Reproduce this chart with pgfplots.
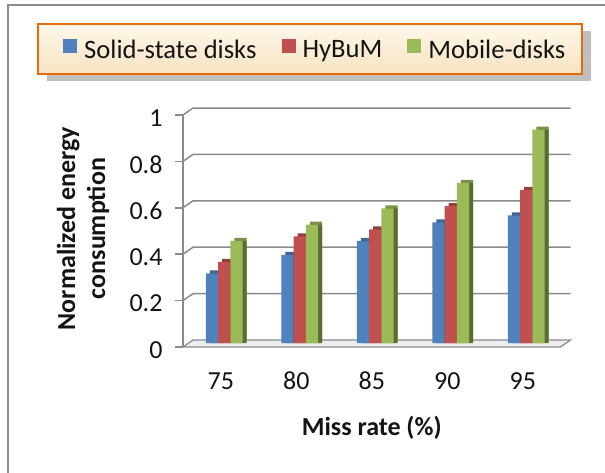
\documentclass[border=0pt]{standalone}
\usepackage{pgfplots}
\pgfplotsset{compat=1.18}
\usepackage{pgfplotstable}
\usepackage{fontspec}
\setmainfont{Carlito}

\definecolor{ssd}{HTML}{4F81BD}
\definecolor{hyb}{HTML}{C0504D}
\definecolor{mob}{HTML}{9BBB59}
\definecolor{gridgray}{HTML}{8A8A8A}
\definecolor{framegray}{HTML}{8C8C8C}
\definecolor{floorgray}{HTML}{EDEDED}
\definecolor{legorange}{HTML}{E46C0A}
\definecolor{legtop}{HTML}{FEF7EA}
\definecolor{legbottom}{HTML}{F7E3C2}
\definecolor{legshadow}{HTML}{BFBFBF}
\definecolor{txt}{HTML}{141414}

\newcommand\fsize{\fontsize{26pt}{30pt}\selectfont}
\newcommand\lsize{\fontsize{26.6pt}{30pt}\selectfont}

% normalized energy consumption per miss rate
\pgfplotstableread{
x ssd hybum mobile
0 0.30 0.35 0.44
1 0.38 0.46 0.51
2 0.44 0.49 0.58
3 0.52 0.59 0.69
4 0.55 0.66 0.92
}\energy

% pseudo-3D columns: top face, side face, front face
\pgfplotsset{
  topface/.style 2 args={ybar, bar width=12.3pt, bar shift=#2, fill=#1!78!black,
    draw=none, xshift=7.5pt, yshift=7pt, forget plot},
  sideface/.style 2 args={ybar, bar width=12.3pt, bar shift=#2, fill=#1!58!black,
    draw=none, xshift=7.5pt, yshift=4pt, forget plot},
  frontface/.style 2 args={ybar, bar width=12.3pt, bar shift=#2, fill=#1,
    draw=none, xshift=3.5pt, yshift=4pt,
    legend image code/.code={\fill[#1] (0pt,-7pt) rectangle (14pt,7pt);}},
}

\begin{document}
\begin{tikzpicture}[x=1pt,y=1pt]
\useasboundingbox (0,0) rectangle (605,472);
% outer chart frame
\draw[framegray, line width=2.5pt] (8,-3) -- (8,467) -- (608,467);
% legend panel with its drop shadow
\fill[legshadow] (47,391) rectangle (591,441);
\draw[legorange, line width=2.5pt, top color=legtop, bottom color=legbottom]
  (38,398) rectangle (582,448);
\begin{axis}[
  at={(183pt,125pt)}, anchor=south west,
  scale only axis, width=377.5pt, height=232pt,
  xmin=-0.5, xmax=4.5, ymin=0, ymax=1,
  clip=false,
  axis line style={draw=none},
  xtick={0,1,2,3,4}, xticklabels={75,80,85,90,95},
  ytick={0,0.2,0.4,0.6,0.8,1},
  yticklabels={0,0.2,0.4,0.6,0.8,1},
  tick pos=left,
  tick align=outside, major tick length=8pt,
  xtick style={draw=none},
  ytick style={gridgray, line width=1.5pt},
  /pgf/number format/assume math mode=true,
  ticklabel style={font=\fsize, text=txt},
  x tick label style={anchor=center, yshift=-26pt},
  y tick label style={anchor=east, xshift=-9pt, yshift=-3pt},
  xlabel={Miss rate (\%)},
  ylabel={Normalized energy\\consumption},
  label style={font=\fsize\bfseries, text=txt},
  xlabel style={at={(axis description cs:0.5,-0.349)}, anchor=center},
  ylabel style={at={(axis description cs:-0.2649,0.5108)}, anchor=center, align=center},
  legend columns=3,
  legend style={
    at={(axis description cs:-0.3179,1.284)}, anchor=west,
    draw=none, fill=none, inner sep=0pt,
    font=\lsize,
    nodes={font=\lsize, text=txt, inner sep=0pt},
    /tikz/every odd column/.append style={column sep=7pt},
    /tikz/every even column/.append style={column sep=25pt},
  },
]
  % floor slab
  \filldraw[fill=floorgray, draw=gridgray, line width=1.2pt]
    (axis cs:-0.5,0) -- (axis cs:4.5,0)
    -- ([shift={(10pt,7pt)}]axis cs:4.5,0)
    -- ([shift={(10pt,7pt)}]axis cs:-0.5,0) -- cycle;
  % left wall edge
  \draw[gridgray, line width=1.5pt] (axis cs:-0.5,0) -- (axis cs:-0.5,1);
  % back-wall gridlines with their side-wall connectors
  \pgfplotsinvokeforeach{0.2,0.4,0.6,0.8,1}{
    \draw[gridgray, line width=1.5pt]
      (axis cs:-0.5,#1) -- ([shift={(10pt,7pt)}]axis cs:-0.5,#1)
      -- ([shift={(10pt,7pt)}]axis cs:4.5,#1);
  }

  \addplot[topface={ssd}{-12.3pt}]  table[x=x, y=ssd]    {\energy};
  \addplot[sideface={ssd}{-12.3pt}] table[x=x, y=ssd]    {\energy};
  \addplot[frontface={ssd}{-12.3pt}] table[x=x, y=ssd]   {\energy};
  \addlegendentry{Solid-state disks}

  \addplot[topface={hyb}{0pt}]  table[x=x, y=hybum]  {\energy};
  \addplot[sideface={hyb}{0pt}] table[x=x, y=hybum]  {\energy};
  \addplot[frontface={hyb}{0pt}] table[x=x, y=hybum] {\energy};
  \addlegendentry{HyBuM}

  \addplot[topface={mob}{12.3pt}]  table[x=x, y=mobile]  {\energy};
  \addplot[sideface={mob}{12.3pt}] table[x=x, y=mobile]  {\energy};
  \addplot[frontface={mob}{12.3pt}] table[x=x, y=mobile] {\energy};
  \addlegendentry{Mobile-disks}
\end{axis}
\end{tikzpicture}
\end{document}
